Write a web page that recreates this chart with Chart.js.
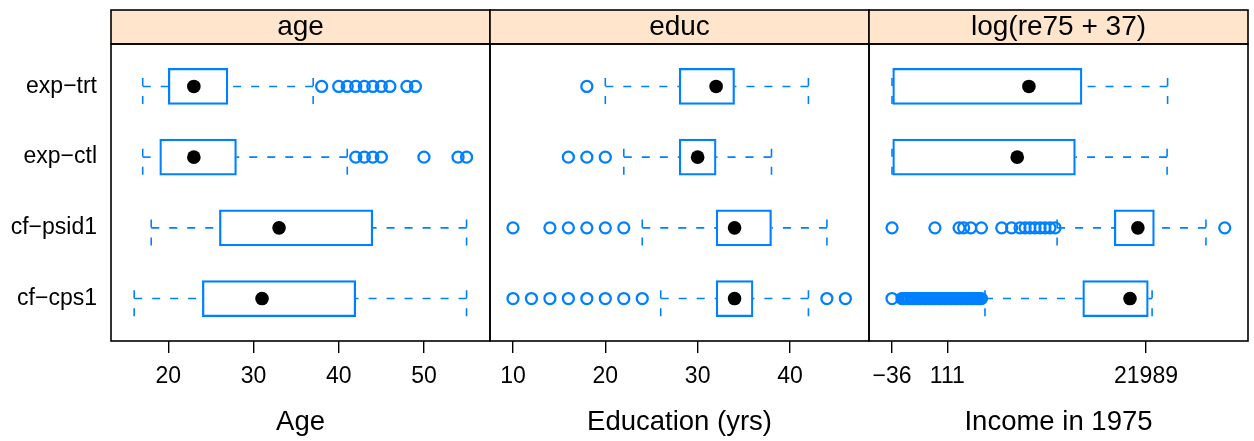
<!DOCTYPE html>
<html>
<head>
<meta charset="utf-8">
<script src="https://cdn.jsdelivr.net/npm/chart.js@4.4.1/dist/chart.umd.min.js"></script>
<style>
  html, body { margin: 0; padding: 0; background: #ffffff; }
  #wrap { position: relative; width: 1254px; height: 441px; overflow: hidden; }
  canvas { position: absolute; top: 0; }
</style>
</head>
<body>
<div id="wrap">
  <canvas id="c1" width="493" height="441" style="left:0px"></canvas>
  <canvas id="c2" width="385" height="441" style="left:487px"></canvas>
  <canvas id="c3" width="385" height="441" style="left:866px"></canvas>
</div>
<script>
// ---------------- DATA ----------------
const groups = ['exp\u2212trt', 'exp\u2212ctl', 'cf\u2212psid1', 'cf\u2212cps1']; // top to bottom
const rowPos = [4, 3, 2, 1];
const panelTitles = ['age', 'educ', 'log(re75 + 37)'];
const axisTitles = ['Age', 'Education (yrs)', 'Income in 1975'];

// age
const ageLow  = [17, 17, 18, 16];
const ageQ1   = [20, 19, 26, 24];
const ageMed  = [23, 23, 33, 31];
const ageQ3   = [27, 28, 44, 42];
const ageHigh = [37, 41, 55, 55];
const ageOut  = [[38, 40, 41, 42, 43, 44, 45, 46, 48, 49], [42, 43, 44, 45, 50, 54, 55], [], []];
const ageTicks = [20, 30, 40, 50];

// educ
const educLow  = [20, 22, 24, 26];
const educQ1   = [28, 28, 32, 32];
const educMed  = [32, 30, 34, 34];
const educQ3   = [34, 32, 38, 36];
const educHigh = [42, 38, 44, 42];
const educOut  = [[18], [16, 18, 20], [10, 14, 16, 18, 20, 22], [10, 12, 14, 16, 18, 20, 22, 24, 44, 46]];
const educTicks = [10, 20, 30, 40];

// log(re75 + 37), values given as positions along the panel's axis
const incLow  = [0, 0, 65.0, 36.6];
const incQ1   = [0, 0, 87.5, 75.1];
const incMed  = [53.9, 49.3, 96.8, 93.7];
const incQ3   = [74.8, 72.2, 103.3, 100.9];
const incHigh = [108.5, 108.3, 123.6, 102.4];
const incOut  = [
  [],
  [],
  [0, 16.9, 26.4, 28.2, 31.0, 35.2, 43.2, 47.1, 50.4, 52.4, 54.3, 56.3, 58.3, 60.2, 62.2, 64.2, 131.0],
  [0, 3.9, 4.5, 5.2, 6.0, 6.6, 7.4, 8.1, 8.7, 9.5, 10.2, 10.9, 11.5, 12.3, 13.0, 13.6, 14.4, 15.1,
   15.8, 16.5, 17.1, 17.9, 18.6, 19.2, 20.0, 20.7, 21.3, 22.1, 22.8, 23.4, 24.2, 24.9, 25.5, 26.3,
   27.0, 27.6, 28.4, 29.1, 29.7, 30.5, 31.2, 31.8, 32.6, 33.3, 33.9, 34.6, 35.2]
];
const incTickPos = [0, 21.77, 100];
const incTickLabels = ['\u221236', '111', '21989'];

// ---------------- STYLE ----------------
const BLUE = '#0080ff';
const STRIP = '#ffe5cc';
const FONT = '"Liberation Sans", Arial, Helvetica, sans-serif';
Chart.defaults.font.family = FONT;
Chart.defaults.color = '#000';

const framePlugin = {
  id: 'frame',
  beforeDraw(chart, args, opts) {
    const a = chart.chartArea, ctx = chart.ctx;
    ctx.save();
    ctx.fillStyle = STRIP;
    ctx.fillRect(a.left, a.top - 34, a.right - a.left, 34);
    ctx.restore();
  },
  afterDraw(chart, args, opts) {
    const a = chart.chartArea, ctx = chart.ctx;
    ctx.save();
    ctx.strokeStyle = '#000';
    ctx.lineWidth = 1.6;
    ctx.strokeRect(a.left, a.top - 34, a.right - a.left, 34);
    ctx.strokeRect(a.left, a.top, a.right - a.left, a.bottom - a.top);
    ctx.fillStyle = '#000';
    ctx.font = '28px ' + FONT;
    ctx.textAlign = 'center';
    ctx.textBaseline = 'alphabetic';
    ctx.fillText(opts.text, (a.left + a.right) / 2, a.top - 9.5);
    ctx.restore();
  }
};

function buildDatasets(low, q1, med, q3, high, out) {
  const ds = [];
  // medians
  ds.push({
    type: 'scatter',
    data: rowPos.map((r, i) => ({ x: med[i], y: r })),
    pointRadius: 6.8, pointHoverRadius: 6.8,
    pointBackgroundColor: '#000', pointBorderWidth: 0, pointBorderColor: '#000'
  });
  // outliers
  const pts = [];
  out.forEach((arr, i) => arr.forEach(v => pts.push({ x: v, y: rowPos[i] })));
  ds.push({
    type: 'scatter',
    data: pts,
    pointRadius: 5.5, pointHoverRadius: 5.5,
    pointBackgroundColor: 'rgba(0,0,0,0)', pointBorderColor: BLUE, pointBorderWidth: 2.3
  });
  // boxes
  ds.push({
    type: 'bar',
    indexAxis: 'y',
    data: rowPos.map((r, i) => ({ y: r, x: [q1[i], q3[i]] })),
    backgroundColor: 'rgba(0,0,0,0)',
    borderColor: BLUE,
    borderWidth: 1.6,
    borderSkipped: false,
    barThickness: 36
  });
  // whiskers and staples
  const lineStyle = {
    type: 'line', borderColor: BLUE, borderWidth: 1.6, borderDash: [8, 10],
    pointRadius: 0, pointHoverRadius: 0, fill: false, tension: 0
  };
  rowPos.forEach((r, i) => {
    ds.push(Object.assign({ data: [{ x: low[i], y: r }, { x: q1[i], y: r }] }, lineStyle));
    ds.push(Object.assign({ data: [{ x: high[i], y: r }, { x: q3[i], y: r }] }, lineStyle));
    ds.push(Object.assign({ data: [{ x: low[i], y: r - 0.25 }, { x: low[i], y: r + 0.25 }] }, lineStyle));
    ds.push(Object.assign({ data: [{ x: high[i], y: r - 0.25 }, { x: high[i], y: r + 0.25 }] }, lineStyle));
  });
  return ds;
}

function makePanel(id, idx, datasets, xmin, xmax, tickVals, tickLabels, showY, pad) {
  new Chart(document.getElementById(id), {
    type: 'scatter',
    data: { datasets: datasets },
    plugins: [framePlugin],
    options: {
      responsive: false,
      animation: false,
      events: [],
      layout: { autoPadding: false, padding: { top: 44, bottom: 0, left: pad.left, right: pad.right } },
      plugins: {
        legend: { display: false },
        tooltip: { enabled: false },
        title: { display: false },
        frame: { text: panelTitles[idx] }
      },
      scales: {
        x: {
          type: 'linear', min: xmin, max: xmax, offset: false,
          border: { display: false },
          grid: { display: true, drawOnChartArea: false, drawTicks: true, tickLength: 12,
                  color: '#000', lineWidth: 1.4, offset: false },
          ticks: {
            autoSkip: false, maxRotation: 0, padding: 10, color: '#000',
            font: { size: 23 },
            callback: (v, i) => tickLabels ? tickLabels[i] : String(v)
          },
          afterBuildTicks: s => { s.ticks = tickVals.map(v => ({ value: v })); },
          afterFit: s => { s.height = 100; s.paddingLeft = 0; s.paddingRight = 0; },
          title: { display: true, text: axisTitles[idx], color: '#000',
                   font: { size: 27.5 }, padding: { top: 0, bottom: 2.2 } }
        },
        y: {
          type: 'linear', min: 0.4, max: 4.6, offset: false, beginAtZero: false,
          display: showY,
          border: { display: false },
          grid: { display: false, drawTicks: false },
          ticks: {
            autoSkip: false, padding: 14, color: '#000', font: { size: 23 },
            callback: v => { const k = rowPos.indexOf(v); return k >= 0 ? groups[k] : ''; }
          },
          afterBuildTicks: s => { s.ticks = rowPos.map(v => ({ value: v })); },
          afterFit: s => { if (showY) s.width = 111; s.paddingTop = 0; s.paddingBottom = 0; }
        }
      }
    }
  });
}

makePanel('c1', 0, buildDatasets(ageLow, ageQ1, ageMed, ageQ3, ageHigh, ageOut),
          13.28, 57.75, ageTicks, null, true, { left: 0, right: 3 });
makePanel('c2', 1, buildDatasets(educLow, educQ1, educMed, educQ3, educHigh, educOut),
          7.51, 48.56, educTicks, null, false, { left: 3, right: 3 });
makePanel('c3', 2, buildDatasets(incLow, incQ1, incMed, incQ3, incHigh, incOut),
          -9.06, 140.16, incTickPos, incTickLabels, false, { left: 3, right: 3 });
</script>
</body>
</html>
